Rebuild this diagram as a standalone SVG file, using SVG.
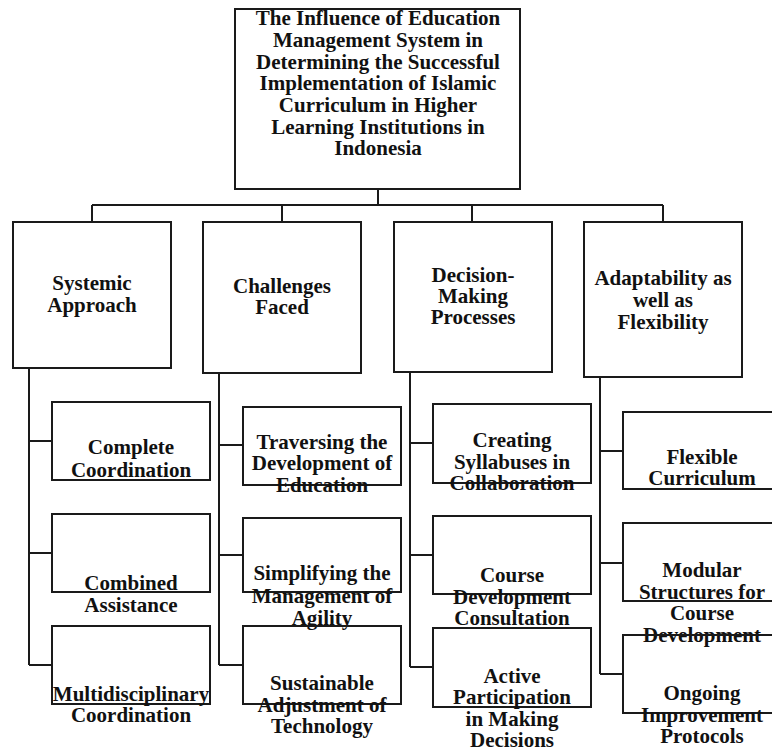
<svg xmlns="http://www.w3.org/2000/svg" width="772" height="749" viewBox="0 0 772 749" font-family="'Liberation Serif', 'Times New Roman', 'DejaVu Serif', serif">
<style>
.b{fill:none;stroke:#1a1a1a;stroke-width:2}
.c{fill:none;stroke:#1a1a1a;stroke-width:2}
text{font-family:'Liberation Serif','Times New Roman','DejaVu Serif',serif;font-weight:bold;font-size:21px;fill:#111;text-anchor:middle}
</style>
<rect width="772" height="749" fill="#fff"/>
<g id="connectors">
<path class="c" d="M378 189V205M92 205H663M92 205V222M282 205V222M472 205V222M663 205V222"/>
<path class="c" d="M29 368V665M29 441H52M29 553H52M29 665H52"/>
<path class="c" d="M219 373V665M219 445H243M219 555H243M219 665H243"/>
<path class="c" d="M410 372V667M410 443H433M410 555H433M410 667H433"/>
<path class="c" d="M600 377V674M600 451H623M600 563H623M600 674H623"/>
</g>
<g id="root">
<rect class="b" x="235" y="9" width="285" height="180"/>
<text x="378" y="25">The Influence of Education</text>
<text x="378" y="47">Management System in</text>
<text x="378" y="69">Determining the Successful</text>
<text x="378" y="90">Implementation of Islamic</text>
<text x="378" y="112">Curriculum in Higher</text>
<text x="378" y="134">Learning Institutions in</text>
<text x="378" y="155">Indonesia</text>
</g>
<g id="systemic">
<rect class="b" x="13" y="222" width="158" height="146"/>
<text x="92" y="290">Systemic</text>
<text x="92" y="312">Approach</text>
</g>
<g id="challenges">
<rect class="b" x="203" y="222" width="158" height="151"/>
<text x="282" y="293">Challenges</text>
<text x="282" y="314">Faced</text>
</g>
<g id="decision">
<rect class="b" x="394" y="222" width="158" height="150"/>
<text x="473" y="282">Decision-</text>
<text x="473" y="303">Making</text>
<text x="473" y="324">Processes</text>
</g>
<g id="adaptability">
<rect class="b" x="584" y="222" width="158" height="155"/>
<text x="663" y="285">Adaptability as</text>
<text x="663" y="307">well as</text>
<text x="663" y="329">Flexibility</text>
</g>
<g id="complete-coordination">
<rect class="b" x="52" y="402" width="158" height="78"/>
<text x="131" y="454">Complete</text>
<text x="131" y="477">Coordination</text>
</g>
<g id="combined-assistance">
<rect class="b" x="52" y="514" width="158" height="78"/>
<text x="131" y="590">Combined</text>
<text x="131" y="612">Assistance</text>
</g>
<g id="multidisciplinary-coordination">
<rect class="b" x="52" y="626" width="158" height="78"/>
<text x="131" y="701">Multidisciplinary</text>
<text x="131" y="722">Coordination</text>
</g>
<g id="traversing">
<rect class="b" x="243" y="407" width="158" height="78"/>
<text x="322" y="449">Traversing the</text>
<text x="322" y="470">Development of</text>
<text x="322" y="492">Education</text>
</g>
<g id="simplifying">
<rect class="b" x="243" y="518" width="158" height="74"/>
<text x="322" y="580">Simplifying the</text>
<text x="322" y="603">Management of</text>
<text x="322" y="625">Agility</text>
</g>
<g id="sustainable">
<rect class="b" x="243" y="626" width="158" height="78"/>
<text x="322" y="690">Sustainable</text>
<text x="322" y="712">Adjustment of</text>
<text x="322" y="733">Technology</text>
</g>
<g id="creating-syllabuses">
<rect class="b" x="433" y="404" width="158" height="79"/>
<text x="512" y="447">Creating</text>
<text x="512" y="469">Syllabuses in</text>
<text x="512" y="490">Collaboration</text>
</g>
<g id="course-consultation">
<rect class="b" x="433" y="516" width="158" height="78"/>
<text x="512" y="582">Course</text>
<text x="512" y="604">Development</text>
<text x="512" y="625">Consultation</text>
</g>
<g id="active-participation">
<rect class="b" x="433" y="628" width="158" height="79"/>
<text x="512" y="683">Active</text>
<text x="512" y="704">Participation</text>
<text x="512" y="726">in Making</text>
<text x="512" y="747">Decisions</text>
</g>
<g id="flexible-curriculum">
<rect class="b" x="623" y="412" width="158" height="77"/>
<text x="702" y="464">Flexible</text>
<text x="702" y="485">Curriculum</text>
</g>
<g id="modular-structures">
<rect class="b" x="623" y="523" width="158" height="78"/>
<text x="702" y="577">Modular</text>
<text x="702" y="599">Structures for</text>
<text x="702" y="620">Course</text>
<text x="702" y="642">Development</text>
</g>
<g id="ongoing-improvement">
<rect class="b" x="623" y="635" width="158" height="78"/>
<text x="702" y="700">Ongoing</text>
<text x="702" y="722">Improvement</text>
<text x="702" y="743">Protocols</text>
</g>
</svg>
